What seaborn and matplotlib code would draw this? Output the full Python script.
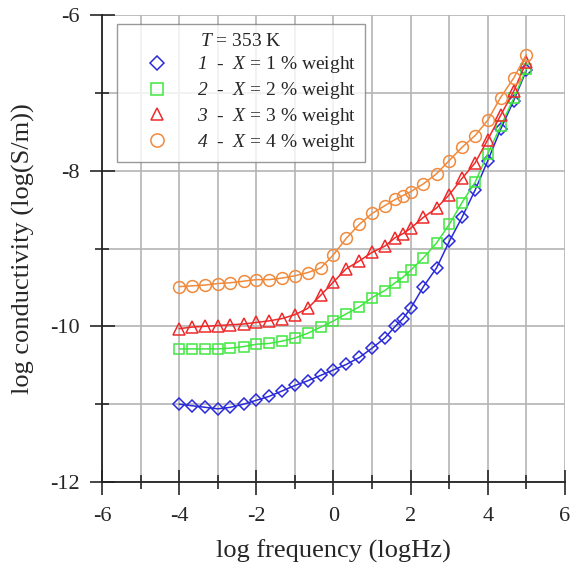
import pandas as pd
import matplotlib.pyplot as plt
import seaborn as sns
from matplotlib.lines import Line2D
from matplotlib.ticker import MultipleLocator

log_freq = [-4, -3.67, -3.33, -3, -2.67, -2.33, -2, -1.67, -1.33, -1, -0.67, -0.33,
            0, 0.33, 0.67, 1, 1.33, 1.6, 1.8, 2, 2.33, 2.67, 3, 3.33, 3.67, 4,
            4.33, 4.67, 5]

sigma_1 = [-11.0, -11.02, -11.04, -11.06, -11.04, -11.0, -10.95, -10.9, -10.83, -10.76,
           -10.70, -10.63, -10.56, -10.49, -10.40, -10.28, -10.15, -10.0, -9.9, -9.77,
           -9.49, -9.25, -8.91, -8.6, -8.25, -7.87, -7.47, -7.1, -6.71]
sigma_2 = [-10.29, -10.29, -10.29, -10.29, -10.28, -10.26, -10.23, -10.22, -10.19, -10.15,
           -10.09, -10.01, -9.93, -9.84, -9.75, -9.63, -9.54, -9.44, -9.37, -9.28,
           -9.12, -8.93, -8.69, -8.41, -8.15, -7.78, -7.43, -7.07, -6.69]
sigma_3 = [-10.03, -10.01, -10.0, -9.99, -9.98, -9.97, -9.95, -9.93, -9.90, -9.85,
           -9.77, -9.6, -9.43, -9.26, -9.16, -9.05, -8.97, -8.86, -8.81, -8.74,
           -8.60, -8.48, -8.31, -8.1, -7.9, -7.6, -7.29, -6.98, -6.6]
sigma_4 = [-9.49, -9.48, -9.47, -9.45, -9.44, -9.42, -9.40, -9.40, -9.38, -9.35,
           -9.31, -9.25, -9.08, -8.87, -8.69, -8.55, -8.45, -8.37, -8.32, -8.27,
           -8.17, -8.04, -7.87, -7.70, -7.55, -7.35, -7.06, -6.81, -6.51]

# math parts are drawn in the italic face (digits included)
labels = [r"$1$  -  $X$ = 1 % weight",
          r"$2$  -  $X$ = 2 % weight",
          r"$3$  -  $X$ = 3 % weight",
          r"$4$  -  $X$ = 4 % weight"]
colors = ["#2a2ad8", "#3ee83e", "#ee2a2a", "#f08a3c"]
markers = ["D", "s", "^", "o"]
msizes = [6.5, 7.5, 8, 8.5]

sns.set_style("white")
plt.rcParams["font.family"] = ["Liberation Serif", "DejaVu Serif"]
plt.rcParams["mathtext.fontset"] = "custom"
plt.rcParams["mathtext.rm"] = "Liberation Serif:italic"
plt.rcParams["mathtext.it"] = "Liberation Serif:italic"
plt.rcParams["axes.unicode_minus"] = False

fig = plt.figure(figsize=(5.71, 5.68), dpi=100)
ax = fig.add_axes([0.1786, 0.1514, 0.8109, 0.8222])

handles = []
for ys, c, m, ms, lab in zip([sigma_1, sigma_2, sigma_3, sigma_4], colors, markers, msizes, labels):
    df = pd.DataFrame({"f": log_freq, "s": ys})
    sns.lineplot(data=df, x="f", y="s", ax=ax, color=c, lw=1.1, marker=m,
                 markersize=ms, markerfacecolor="none", markeredgecolor=c,
                 markeredgewidth=1.1, zorder=3)
    handles.append(Line2D([], [], ls="none", marker=m, markersize=ms + 1,
                          markerfacecolor="none", markeredgecolor=c, markeredgewidth=1.1))

ax.set_xlim(-6, 6)
ax.set_ylim(-12, -6)
ax.xaxis.set_major_locator(MultipleLocator(2))
ax.xaxis.set_minor_locator(MultipleLocator(1))
ax.yaxis.set_major_locator(MultipleLocator(2))
ax.yaxis.set_minor_locator(MultipleLocator(1))
ax.grid(which="both", color="#b4b4b4", lw=1.2, zorder=0)
ax.tick_params(which="major", direction="inout", length=18, width=1.2, labelsize=16)
ax.tick_params(axis="x", which="major", pad=9)
ax.tick_params(axis="y", which="major", pad=7)
ax.tick_params(which="minor", direction="inout", length=10, width=1.2)
ax.tick_params(bottom=True, left=True, which="both")
for s in ["top", "right"]:
    ax.spines[s].set_visible(False)
for s in ["left", "bottom"]:
    ax.spines[s].set_color("#222222")
    ax.spines[s].set_linewidth(1.3)

ax.set_xlabel("log frequency (logHz)", fontsize=19, labelpad=10)
ax.set_ylabel("log conductivity (log(S/m))", fontsize=19, labelpad=11)

leg = ax.legend(handles, labels, title=r"$T$ = 353 K", loc="upper left",
                bbox_to_anchor=(0.032, 0.981), borderaxespad=0, fontsize=14,
                title_fontsize=14, frameon=True, fancybox=False,
                handletextpad=0.5, labelspacing=0.25, handlelength=3.2,
                borderpad=0.45)
leg.get_frame().set_edgecolor("#808080")
leg.get_frame().set_linewidth(1.0)

fig.savefig("out.png", dpi=100)
